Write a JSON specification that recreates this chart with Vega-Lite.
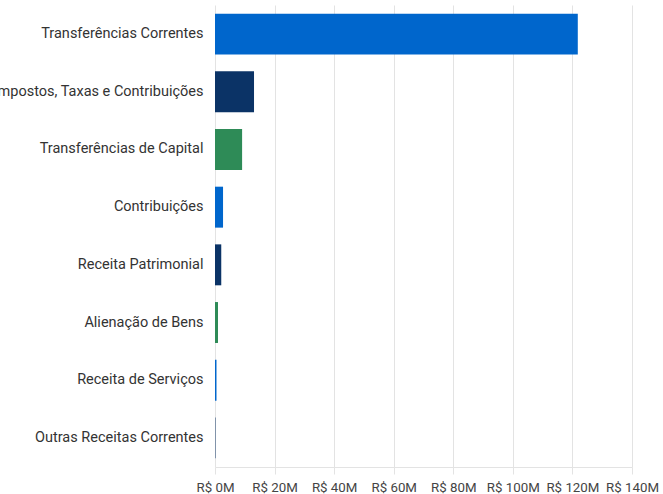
{
  "$schema": "https://vega.github.io/schema/vega-lite/v6.json",
  "autosize": {"type": "none"},
  "padding": {"left": 215, "top": 5, "right": 31, "bottom": 27},
  "width": 417,
  "height": 462,
  "background": "white",
  "data": {"values": [
    {"categoria": "Transferências Correntes", "valor": 121.8, "grupo": "a"},
    {"categoria": "Impostos, Taxas e Contribuições", "valor": 13.1, "grupo": "b"},
    {"categoria": "Transferências de Capital", "valor": 9.1, "grupo": "c"},
    {"categoria": "Contribuições", "valor": 2.7, "grupo": "a"},
    {"categoria": "Receita Patrimonial", "valor": 2.1, "grupo": "b"},
    {"categoria": "Alienação de Bens", "valor": 1.0, "grupo": "c"},
    {"categoria": "Receita de Serviços", "valor": 0.5, "grupo": "a"},
    {"categoria": "Outras Receitas Correntes", "valor": 0.15, "grupo": "b"}
  ]},
  "mark": {"type": "bar"},
  "encoding": {
    "y": {
      "field": "categoria", "type": "nominal", "sort": null,
      "scale": {"paddingInner": 0.29, "paddingOuter": 0.15},
      "axis": {"title": null, "ticks": false, "domain": false, "labelPadding": 12,
               "labelFont": "Roboto", "labelFontSize": 14.5, "labelColor": "#333333", "labelLimit": 0}
    },
    "x": {
      "field": "valor", "type": "quantitative",
      "scale": {"domain": [0, 140], "nice": false},
      "axis": {"title": null, "values": [0, 20, 40, 60, 80, 100, 120, 140],
               "labelExpr": "'R$ ' + datum.value + 'M'",
               "labelFont": "Roboto", "labelFontSize": 13.3, "labelColor": "#444444",
               "gridColor": "#e3e3e3", "domainColor": "#e3e3e3", "tickColor": "#e3e3e3",
               "tickSize": 7, "labelPadding": 6, "labelFlush": false}
    },
    "color": {
      "field": "grupo", "type": "nominal", "legend": null,
      "scale": {"domain": ["a", "b", "c"], "range": ["#0066CC", "#0B3366", "#2E8B57"]}
    }
  },
  "config": {"view": {"stroke": null}}
}
